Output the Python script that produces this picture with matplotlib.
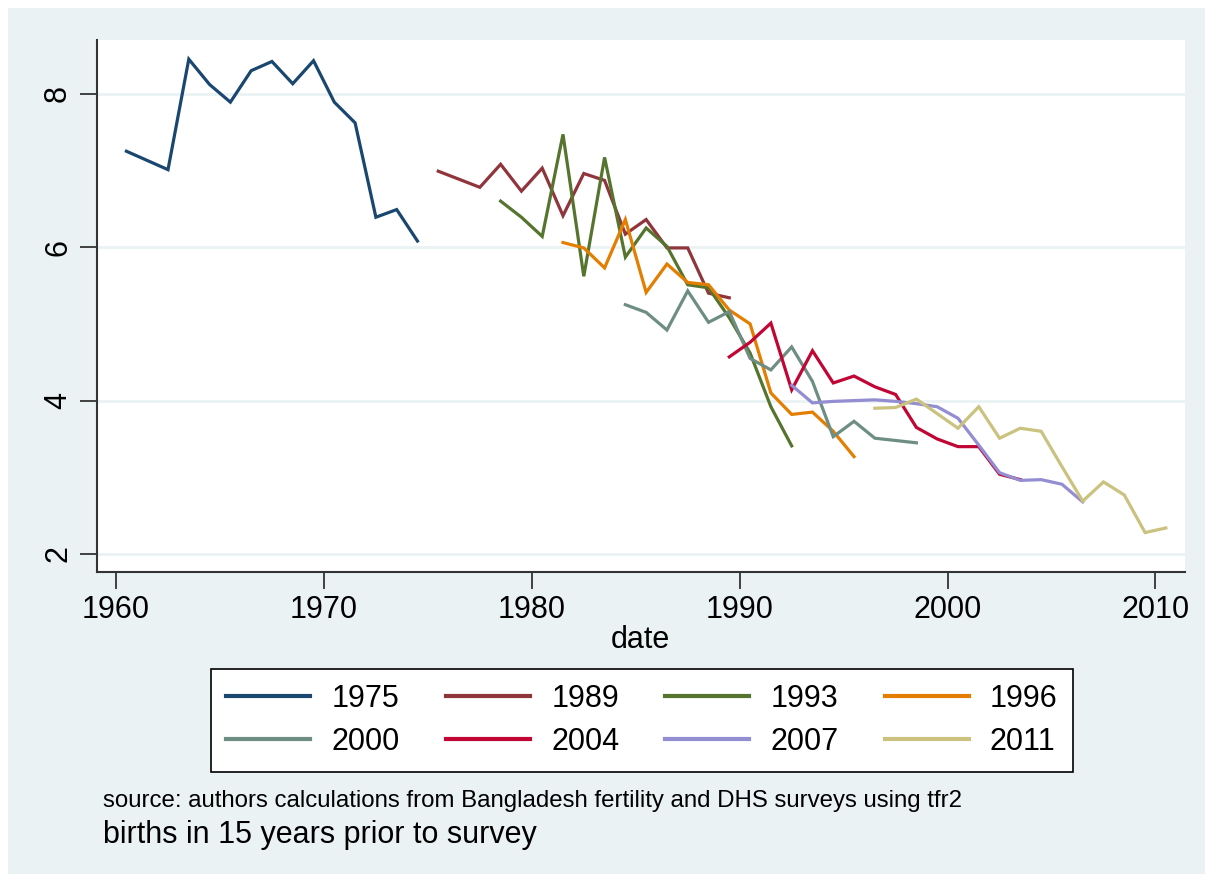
import matplotlib
matplotlib.use("Agg")
import matplotlib.pyplot as plt
from matplotlib.patches import Rectangle

plt.rcParams['font.family'] = ['Liberation Sans', 'DejaVu Sans']

# --- data (survey year -> (dates, TFR)) ---
x1975 = [1960.5, 1962.5, 1963.5, 1964.5, 1965.5, 1966.5, 1967.5, 1968.5, 1969.5, 1970.5, 1971.5, 1972.5, 1973.5, 1974.5]
y1975 = [7.25, 7.01, 8.45, 8.12, 7.89, 8.30, 8.42, 8.13, 8.43, 7.89, 7.62, 6.39, 6.49, 6.08]

x1989 = [1975.5, 1977.5, 1978.5, 1979.5, 1980.5, 1981.5, 1982.5, 1983.5, 1984.5, 1985.5, 1986.5, 1987.5, 1988.5, 1989.5]
y1989 = [6.99, 6.78, 7.08, 6.73, 7.03, 6.41, 6.96, 6.87, 6.17, 6.36, 5.99, 5.99, 5.40, 5.34]

x1993 = [1978.5, 1979.5, 1980.5, 1981.5, 1982.5, 1983.5, 1984.5, 1985.5, 1986.5, 1987.5, 1988.5, 1989.5, 1990.5, 1991.5, 1992.5]
y1993 = [6.60, 6.39, 6.14, 7.47, 5.62, 7.17, 5.87, 6.25, 6.01, 5.51, 5.47, 5.08, 4.62, 3.92, 3.41]

x1996 = [1981.5, 1982.5, 1983.5, 1984.5, 1985.5, 1986.5, 1987.5, 1988.5, 1989.5, 1990.5, 1991.5, 1992.5, 1993.5, 1994.5, 1995.5]
y1996 = [6.06, 5.99, 5.73, 6.36, 5.41, 5.78, 5.54, 5.51, 5.18, 5.00, 4.10, 3.82, 3.85, 3.60, 3.27]

x2000 = [1984.5, 1985.5, 1986.5, 1987.5, 1988.5, 1989.5, 1990.5, 1991.5, 1992.5, 1993.5, 1994.5, 1995.5, 1996.5, 1997.5, 1998.5]
y2000 = [5.25, 5.15, 4.92, 5.43, 5.02, 5.16, 4.55, 4.40, 4.70, 4.25, 3.53, 3.73, 3.51, 3.48, 3.45]

x2004 = [1989.5, 1990.5, 1991.5, 1992.5, 1993.5, 1994.5, 1995.5, 1996.5, 1997.5, 1998.5, 1999.5, 2000.5, 2001.5, 2002.5, 2003.5]
y2004 = [4.57, 4.76, 5.01, 4.14, 4.65, 4.23, 4.32, 4.18, 4.08, 3.65, 3.50, 3.40, 3.40, 3.04, 2.97]

x2007 = [1992.5, 1993.5, 1994.5, 1995.5, 1996.5, 1997.5, 1998.5, 1999.5, 2000.5, 2001.5, 2002.5, 2003.5, 2004.5, 2005.5, 2006.5]
y2007 = [4.20, 3.97, 3.99, 4.00, 4.01, 3.99, 3.96, 3.92, 3.77, 3.42, 3.06, 2.96, 2.97, 2.91, 2.68]

x2011 = [1996.5, 1997.5, 1998.5, 1999.5, 2000.5, 2001.5, 2002.5, 2003.5, 2004.5, 2005.5, 2006.5, 2007.5, 2008.5, 2009.5, 2010.5]
y2011 = [3.90, 3.91, 4.02, 3.83, 3.64, 3.92, 3.51, 3.64, 3.60, 3.14, 2.69, 2.94, 2.77, 2.28, 2.34]

labels = ['1975', '1989', '1993', '1996', '2000', '2004', '2007', '2011']
colors = ['#1a476f', '#90353b', '#55752f', '#e37e00', '#6e8e84', '#c10534', '#938dd2', '#cac27e']
xticks = [1960, 1970, 1980, 1990, 2000, 2010]
yticks = [2, 4, 6, 8]

series = [(x1975, y1975), (x1989, y1989), (x1993, y1993), (x1996, y1996),
          (x2000, y2000), (x2004, y2004), (x2007, y2007), (x2011, y2011)]

bg = '#eaf2f3'
W, H = 1213, 882
fig = plt.figure(figsize=(W / 100, H / 100), dpi=100)
fig.patch.set_facecolor('white')
fig.patches.append(Rectangle((8 / W, 8 / H), 1 - 16 / W, 1 - 16 / H,
                             transform=fig.transFigure, facecolor=bg,
                             edgecolor='none', zorder=-10))

ax = fig.add_axes([96.7 / W, 1 - 571.7 / H, (1185 - 96.7) / W, (571.7 - 40) / H])
ax.set_facecolor('white')

handles = []
for (xs, ys), lab, c in zip(series, labels, colors):
    h, = ax.plot(xs, ys, color=c, lw=2.3, label=lab, solid_joinstyle='miter')
    handles.append(h)

ax.set_xlim(1959.07, 2011.42)
ax.set_ylim(1.77, 8.70)
ax.set_xticks(xticks)
ax.set_yticks(yticks)
ax.set_yticklabels([str(v) for v in yticks], rotation=90, va='center')
ax.tick_params(axis='both', labelsize=22, length=12, width=1.3, color='#333333', direction='out')
ax.tick_params(axis='y', pad=5)
ax.tick_params(axis='x', pad=5)
ax.grid(axis='y', color=bg, lw=2)
ax.set_axisbelow(True)
for s in ['top', 'right']:
    ax.spines[s].set_visible(False)
for s in ['left', 'bottom']:
    ax.spines[s].set_color('#333333')
    ax.spines[s].set_linewidth(1.5)
ax.set_xlabel('date', fontsize=22, labelpad=0)

# row-wise ordering for a 4-column legend (matplotlib fills column-wise)
order = [0, 4, 1, 5, 2, 6, 3, 7]
leg = fig.legend([handles[i] for i in order], [labels[i] for i in order],
                 loc='center', bbox_to_anchor=(642 / W, 1 - 720.5 / H),
                 ncol=4, handlelength=2.75, fontsize=22, frameon=True,
                 fancybox=False, edgecolor='black', facecolor='white', framealpha=1,
                 borderpad=0.5, labelspacing=0.42, handletextpad=0.7, columnspacing=1.5)
leg.get_frame().set_linewidth(1.2)
for line in leg.get_lines():
    line.set_linewidth(3)

fig.text(103 / W, 1 - 801 / H, 'source: authors calculations from Bangladesh fertility and DHS surveys using tfr2',
         fontsize=17.3, va='center', ha='left')
fig.text(103 / W, 1 - 835 / H, 'births in 15 years prior to survey', fontsize=22, va='center', ha='left')

fig.savefig('out.png', dpi=100, facecolor=fig.get_facecolor())
